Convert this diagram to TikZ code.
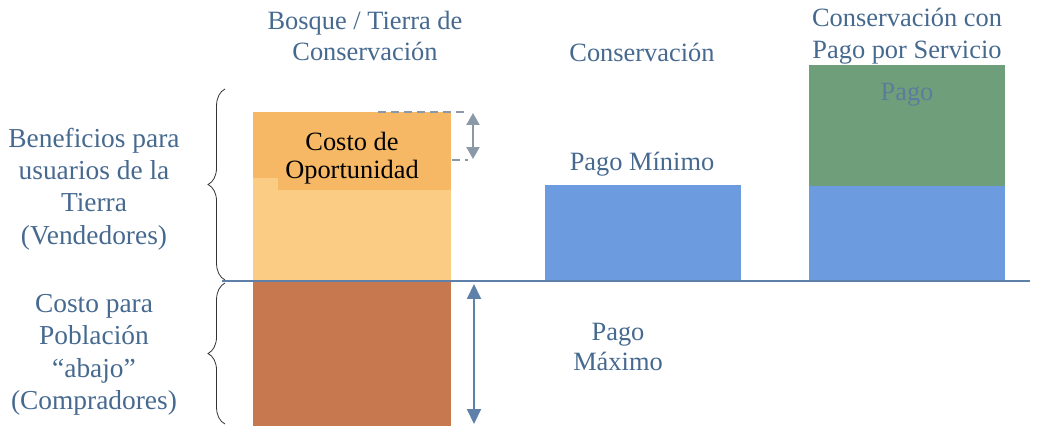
\documentclass[tikz,border=0pt]{standalone}
\usepackage{fontspec}
\setmainfont{Liberation Serif}
\usetikzlibrary{decorations.pathreplacing,arrows.meta}
\definecolor{txt}{HTML}{46698F}
\definecolor{orlight}{HTML}{FBCD84}
\definecolor{ordark}{HTML}{F6B865}
\definecolor{brown}{HTML}{C8784E}
\definecolor{bluebox}{HTML}{6C9BE0}
\definecolor{greenbox}{HTML}{6F9E7A}
\definecolor{axis}{HTML}{5F80A8}
\definecolor{dimgray}{HTML}{8A98A8}
\definecolor{pagotxt}{HTML}{5C7C9E}
\tikzset{
  lbl/.style={text=txt, align=center, font=\fontsize{26.5}{32}\selectfont, inner sep=0pt},
  sidelbl/.style={lbl, font=\fontsize{27.5}{32.5}\selectfont},
  bracestyle/.style={draw=black!80, line width=0.8pt, decorate, decoration={brace, amplitude=17pt, aspect=0.5}},
}
\begin{document}
\begin{tikzpicture}[x=1bp, y=-1bp]
\useasboundingbox (0,0) rectangle (1041,426);
% bars
\fill[orlight] (253,112) rectangle (451,280);
\fill[ordark] (253,112) rectangle (451,178);
\fill[ordark] (278,178) rectangle (451,190);
\fill[brown] (253,282) rectangle (451,426);
\fill[bluebox] (545,185) rectangle (741,280);
\fill[greenbox] (809,65) rectangle (1005,186);
\fill[bluebox] (809,186) rectangle (1005,280);
% axis line
\coordinate (axL) at (222,281);
\coordinate (axR) at (1030,281);
\draw[axis, line width=1.6pt] (axL) -- (axR);
% braces
\coordinate (b1top) at (225,89);
\coordinate (b1bot) at (225,280);
\coordinate (b2top) at (225,283);
\coordinate (b2bot) at (225,424);
\draw[bracestyle] (b1bot) -- (b1top);
\draw[bracestyle] (b2bot) -- (b2top);
% pago maximo arrow
\coordinate (mxTop) at (474,284);
\coordinate (mxBot) at (474,424);
\draw[axis, line width=2pt, {Triangle[length=15pt,width=14pt]}-{Triangle[length=15pt,width=14pt]}] (mxTop) -- (mxBot);
% costo de oportunidad dimension
\coordinate (dA1) at (378,112);
\coordinate (dA2) at (466,112);
\coordinate (dB1) at (452,160);
\coordinate (dB2) at (468,160);
\coordinate (dTop) at (473,113);
\coordinate (dBot) at (473,159);
\draw[dimgray, line width=1.3pt, dash pattern=on 8pt off 5pt] (dA1) -- (dA2);
\draw[dimgray, line width=1.3pt, dash pattern=on 8pt off 5pt] (dB1) -- (dB2);
\draw[dimgray, line width=2.2pt, {Triangle[length=12pt,width=13pt]}-{Triangle[length=12pt,width=13pt]}] (dTop) -- (dBot);
% texts
\node[lbl] (h1) at (365,36) {Bosque / Tierra de\\Conservación};
\node[lbl] (h2) at (642,52) {Conservación};
\node[lbl] (h3) at (907,36) {Conservación con\\Pago por Servicio};
\node[lbl, text=black, font=\fontsize{26.5}{28}\selectfont] (co) at (352,158) {Costo de\\Oportunidad};
\node[lbl] (pmin) at (642,164) {Pago Mínimo};
\node[lbl, text=pagotxt] (pago) at (907,95) {Pago};
\node[lbl, font=\fontsize{26.5}{30}\selectfont] (pmax) at (618,347) {Pago\\Máximo};
\node[sidelbl] (ben) at (94,189) {Beneficios para\\usuarios de la\\Tierra\\(Vendedores)};
\node[sidelbl] (cost) at (94,355) {Costo para\\Población\\“abajo”\\(Compradores)};
\end{tikzpicture}
\end{document}
